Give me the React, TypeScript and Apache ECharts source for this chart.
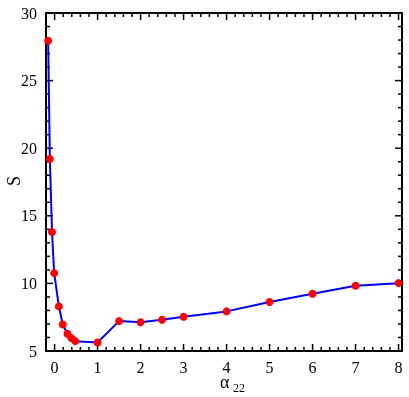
import React, { useEffect, useRef } from "react";
import * as echarts from "echarts";

const alphaValues = [-0.15, -0.11, -0.06, -0.01, 0.1, 0.19, 0.3, 0.39, 0.48, 1, 1.5, 2, 2.5, 3, 4, 5, 6, 7, 8];
const sValues = [27.95, 19.2, 13.8, 10.76, 8.3, 6.96, 6.27, 5.95, 5.73, 5.63, 7.21, 7.13, 7.31, 7.53, 7.93, 8.62, 9.24, 9.83, 10.02];
const xMajorTicks = [0, 1, 2, 3, 4, 5, 6, 7, 8];
const yMajorTicks = [10, 15, 20, 25];
const xMin = -0.2;
const xMax = 8.08;
const yMin = 5;
const yMax = 30;

// minor tick positions (every 0.2 on x, every 1 on y), excluding majors
const xMinorTicks: number[] = [];
for (let i = 1; i <= 40; i++) if (i % 5 !== 0) xMinorTicks.push(Math.round(i * 2) / 10);
const yMinorTicks: number[] = [];
for (let v = 6; v < 30; v++) if (v % 5 !== 0) yMinorTicks.push(v);

const FONT = "'Liberation Serif', 'Times New Roman', serif";
const MAJOR = 7;
const MINOR = 4;

export default function App() {
  const ref = useRef<HTMLDivElement>(null);
  useEffect(() => {
    if (!ref.current) return;
    const chart = echarts.init(ref.current, undefined, { renderer: "svg" });
    const axisLine = { show: true, onZero: false, lineStyle: { color: "#000", width: 2 } };
    // rows: [x, y, side, major]
    const xTickData: number[][] = [];
    for (const side of [0, 1]) {
      for (const v of xMajorTicks) xTickData.push([v, side === 0 ? yMin : yMax, side, 1]);
      for (const v of xMinorTicks) xTickData.push([v, side === 0 ? yMin : yMax, side, 0]);
    }
    const yTickData: number[][] = [];
    for (const side of [0, 1]) {
      for (const v of yMajorTicks) yTickData.push([side === 0 ? xMin : xMax, v, side, 1]);
      for (const v of yMinorTicks) yTickData.push([side === 0 ? xMin : xMax, v, side, 0]);
    }
    chart.setOption({
      animation: false,
      grid: { left: 46, top: 13, right: 7, bottom: 46 },
      xAxis: [
        {
          type: "value",
          position: "bottom",
          min: xMin,
          max: xMax,
          splitLine: { show: false },
          axisLine,
          axisTick: { show: false },
          axisLabel: {
            customValues: xMajorTicks,
            margin: 8,
            color: "#000",
            fontFamily: FONT,
            fontSize: 16,
            formatter: (v: number) => String(v),
          },
        },
        {
          type: "value",
          position: "top",
          min: xMin,
          max: xMax,
          splitLine: { show: false },
          axisLine,
          axisTick: { show: false },
          axisLabel: { show: false },
        },
      ],
      yAxis: [
        {
          type: "value",
          position: "left",
          min: yMin,
          max: yMax,
          interval: 5,
          splitLine: { show: false },
          axisLine,
          axisTick: { show: false },
          axisLabel: { margin: 9, color: "#000", fontFamily: FONT, fontSize: 16 },
        },
        {
          type: "value",
          position: "right",
          min: yMin,
          max: yMax,
          interval: 5,
          splitLine: { show: false },
          axisLine,
          axisTick: { show: false },
          axisLabel: { show: false },
        },
      ],
      graphic: [
        {
          type: "text",
          x: 13.5,
          y: 181,
          rotation: Math.PI / 2,
          style: { text: "S", fontFamily: FONT, fontSize: 18, fill: "#000", align: "center", verticalAlign: "middle" },
        },
        {
          type: "text",
          x: 220,
          y: 382,
          style: { text: "α", fontFamily: FONT, fontSize: 18, fill: "#000", align: "left", verticalAlign: "middle" },
        },
        {
          type: "text",
          x: 233,
          y: 388,
          style: { text: "22", fontFamily: FONT, fontSize: 12, fill: "#000", align: "left", verticalAlign: "middle" },
        },
      ],
      series: [
        {
          type: "custom",
          xAxisIndex: 0,
          yAxisIndex: 0,
          clip: false,
          data: xTickData,
          renderItem: (params: any, api: any) => {
            const p = api.coord([api.value(0), api.value(1)]);
            const len = api.value(3) === 1 ? MAJOR : MINOR;
            const dir = api.value(2) === 0 ? -1 : 1;
            return {
              type: "line",
              shape: { x1: p[0], y1: p[1], x2: p[0], y2: p[1] + dir * len },
              style: { stroke: "#000", lineWidth: 1.5 },
            };
          },
        },
        {
          type: "custom",
          xAxisIndex: 0,
          yAxisIndex: 0,
          clip: false,
          data: yTickData,
          renderItem: (params: any, api: any) => {
            const p = api.coord([api.value(0), api.value(1)]);
            const len = api.value(3) === 1 ? MAJOR : MINOR;
            const dir = api.value(2) === 0 ? 1 : -1;
            return {
              type: "line",
              shape: { x1: p[0], y1: p[1], x2: p[0] + dir * len, y2: p[1] },
              style: { stroke: "#000", lineWidth: 1.5 },
            };
          },
        },
        {
          type: "line",
          xAxisIndex: 0,
          yAxisIndex: 0,
          data: alphaValues.map((a, i) => [a, sValues[i]]),
          lineStyle: { color: "#0000ff", width: 2 },
          symbol: "circle",
          symbolSize: 8,
          itemStyle: { color: "#ff0000" },
          clip: false,
          z: 5,
        },
      ],
    });
    return () => chart.dispose();
  }, []);
  return <div ref={ref} style={{ position: "fixed", left: 0, top: 0, width: 409, height: 397 }} />;
}
